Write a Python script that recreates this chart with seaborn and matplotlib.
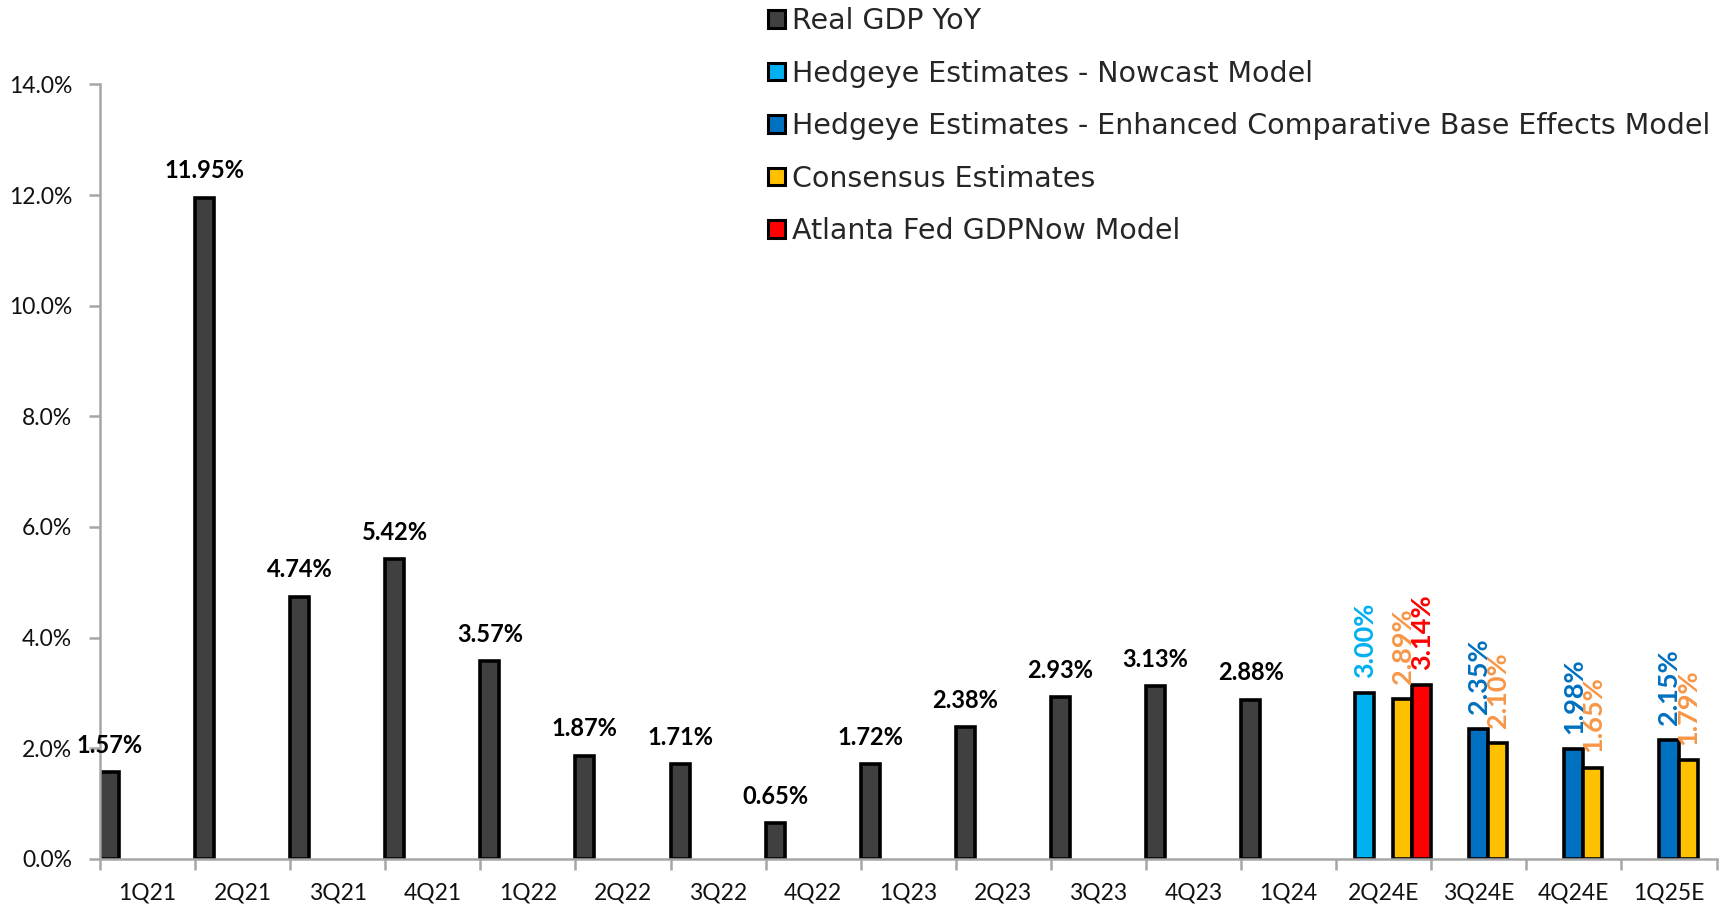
import matplotlib
matplotlib.use("Agg")
import matplotlib.pyplot as plt
from matplotlib.patches import Patch
from matplotlib.ticker import FixedLocator, FuncFormatter
import numpy as np
import pandas as pd
import seaborn as sns

# ---- data -------------------------------------------------------------
quarters = ["1Q21", "2Q21", "3Q21", "4Q21", "1Q22", "2Q22", "3Q22", "4Q22",
            "1Q23", "2Q23", "3Q23", "4Q23", "1Q24", "2Q24E", "3Q24E", "4Q24E", "1Q25E"]

real_gdp_yoy = [1.57, 11.95, 4.74, 5.42, 3.57, 1.87, 1.71, 0.65,
                1.72, 2.38, 2.93, 3.13, 2.88, None, None, None, None]
nowcast_model = [None] * 13 + [3.00, None, None, None]
base_effects_model = [None] * 13 + [None, 2.35, 1.98, 2.15]
consensus = [None] * 13 + [2.89, 2.10, 1.65, 1.79]
gdpnow_model = [None] * 13 + [3.14, None, None, None]

series_names = ["Real GDP YoY",
                "Hedgeye Estimates - Nowcast Model",
                "Hedgeye Estimates - Enhanced Comparative Base Effects Model",
                "Consensus Estimates",
                "Atlanta Fed GDPNow Model"]
series_values = [real_gdp_yoy, nowcast_model, base_effects_model, consensus, gdpnow_model]

y_ticks = [0, 2, 4, 6, 8, 10, 12, 14]

# ---- styling ------------------------------------------------------------
bar_colors = ["#404040", "#00B0F0", "#0070C0", "#FFC000", "#FF0000"]
label_colors = ["#000000", "#00B0F0", "#0070C0", "#F79646", "#FF0000"]

sns.set_theme(style="white")
plt.rcParams["font.family"] = ["Lato", "DejaVu Sans"]

rows = []
for name, vals in zip(series_names, series_values):
    for q, v in zip(quarters, vals):
        if v is not None:
            rows.append({"quarter": q, "series": name, "value": v})
df = pd.DataFrame(rows)

fig = plt.figure(figsize=(17.29, 9.06), dpi=100)
ax = fig.add_axes([0.0578, 0.0519, 0.935, 0.855])

sns.barplot(data=df, x="quarter", y="value", hue="series",
            order=quarters, hue_order=series_names,
            palette=dict(zip(series_names, bar_colors)),
            width=1.0, gap=0, errorbar=None, legend=False,
            edgecolor="black", linewidth=2.6, saturation=1.0, ax=ax)

# value labels: actuals horizontal, estimates rotated
for i, container in enumerate(ax.containers):
    vals = container.datavalues
    labels = [f"{v:.2f}%" for v in vals]
    if i == 0:
        ax.bar_label(container, labels=labels, padding=11, fontsize=17,
                     fontweight="bold", color=label_colors[i])
    else:
        ax.bar_label(container, labels=labels, padding=11, fontsize=19.5,
                     fontweight="bold", color=label_colors[i], rotation=90)

# axes
ax.set_xlim(-0.5, len(quarters) - 0.5)
ax.set_ylim(0, 14)
ax.set_xlabel("")
ax.set_ylabel("")
ax.yaxis.set_major_locator(FixedLocator(y_ticks))
ax.yaxis.set_major_formatter(FuncFormatter(lambda v, p: f"{v:.1f}%"))
ax.xaxis.set_minor_locator(FixedLocator(np.arange(-0.5, len(quarters), 1.0)))

spine_color = "#A6A6A6"
for side in ["top", "right"]:
    ax.spines[side].set_visible(False)
for side in ["left", "bottom"]:
    ax.spines[side].set_color(spine_color)
    ax.spines[side].set_linewidth(1.8)

ax.tick_params(axis="x", which="major", length=0, pad=17, labelsize=16.5,
               labelcolor="#111111")
ax.tick_params(axis="x", which="minor", length=8, width=1.8, color=spine_color,
               direction="out", bottom=True)
ax.tick_params(axis="y", which="major", length=8, width=1.8, color=spine_color,
               direction="out", left=True, pad=12, labelsize=16.5,
               labelcolor="#111111")
ax.grid(False)

# legend
handles = [Patch(facecolor=c, edgecolor="black", linewidth=2.2) for c in bar_colors]
fig.legend(handles, series_names, loc="upper left",
           bbox_to_anchor=(761 / 1729, 1.0), frameon=False,
           handlelength=0.58, handleheight=0.58,
           handletextpad=0.27, labelspacing=0.86, borderaxespad=0.15,
           borderpad=0.1, prop={"family": ["DejaVu Sans"], "size": 20.5})

fig.savefig("out.png", dpi=100)
